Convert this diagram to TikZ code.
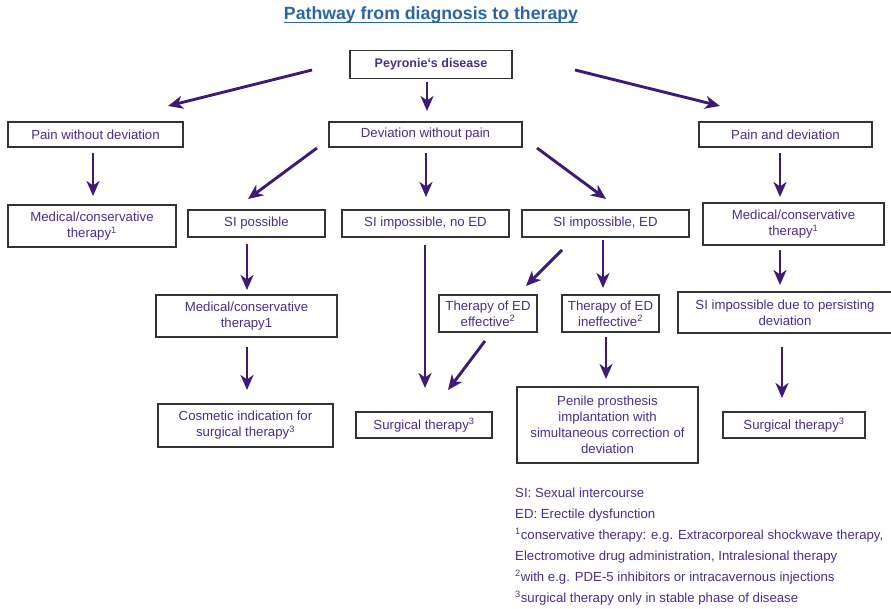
\documentclass[tikz,border=0pt]{standalone}
\usepackage{fontspec}
\setmainfont{Liberation Sans}
\usetikzlibrary{arrows.meta}
\definecolor{txtpurple}{HTML}{4B2D8F}
\definecolor{arrpurple}{HTML}{3D1A7A}
\definecolor{titleblue}{HTML}{2A66A6}
\definecolor{boxline}{HTML}{333333}

\begin{document}
\begin{tikzpicture}[x=1pt,y=-1pt,
  box/.style={draw=boxline, line width=1.8pt, fill=white, text=txtpurple, align=center,
    inner sep=2pt, font=\fontsize{13.2pt}{16pt}\selectfont},
  flow/.style={draw=arrpurple, line width=2.9pt,
    -{Stealth[length=15pt,width=13pt,inset=4.5pt]}},
  note/.style={text=txtpurple, anchor=base west, inner sep=0pt,
    font=\fontsize{13.2pt}{16pt}\selectfont}]

\useasboundingbox (0,0) rectangle (891,609);
\clip (0,0) rectangle (891,609);

% title
\node[text=titleblue, inner sep=0pt, anchor=base,
  font=\bfseries\fontsize{17.7pt}{20pt}\selectfont] (title) at (431,20)
  {Pathway from diagnosis to therapy};
\draw[titleblue, line width=1.5pt] ([yshift=-2.5pt]title.base west) -- ([yshift=-2.5pt]title.base east);

% boxes
\node[box, minimum width=162pt, minimum height=28pt,
  font=\bfseries\fontsize{12.5pt}{15pt}\selectfont] (pey) at (431,64.5) {Peyronie‘s disease};

\node[box, minimum width=175pt, minimum height=25pt] (pwd) at (95.5,134.5) {Pain without deviation};
\node[box, minimum width=193pt, minimum height=25pt] (dwp) at (425.5,134.5) {Deviation without pain};
\node[box, minimum width=173pt, minimum height=25pt] (pad) at (785.5,134.5) {Pain and deviation};

\node[box, minimum width=168pt, minimum height=42pt] (medL) at (92,226) {Medical/conservative\\therapy\textsuperscript{1}};
\node[box, minimum width=137pt, minimum height=27pt] (sipos) at (256.5,223.5) {SI possible};
\node[box, minimum width=167pt, minimum height=27pt] (sinoed) at (425.5,223.5) {SI impossible, no ED};
\node[box, minimum width=167pt, minimum height=27pt] (sied) at (605.5,223.5) {SI impossible, ED};
\node[box, minimum width=181pt, minimum height=42pt] (medR) at (793.5,224) {Medical/conservative\\therapy\textsuperscript{1}};

\node[box, minimum width=181pt, minimum height=42pt] (medC) at (246.5,316) {Medical/conservative\\therapy1};
\node[box, minimum width=98pt, minimum height=37pt, inner sep=1pt] (edeff) at (488,313.5) {Therapy of ED\\effective\textsuperscript{2}};
\node[box, minimum width=97pt, minimum height=37pt, inner sep=1pt] (edineff) at (610.5,313.5) {Therapy of ED\\ineffective\textsuperscript{2}};
\node[box, minimum width=214pt, minimum height=41pt] (sidue) at (785,312.5) {SI impossible due to persisting\\deviation};

\node[box, minimum width=175pt, minimum height=43pt] (cosm) at (245.5,425.5) {Cosmetic indication for\\surgical therapy\textsuperscript{3}};
\node[box, minimum width=136pt, minimum height=26pt] (surgC) at (424,425) {Surgical therapy\textsuperscript{3}};
\node[box, minimum width=181pt, minimum height=76pt] (penile) at (607.5,425) {Penile prosthesis\\implantation with\\simultaneous correction of\\deviation};
\node[box, minimum width=142pt, minimum height=26pt] (surgR) at (794,425) {Surgical therapy\textsuperscript{3}};

% arrow end points
\coordinate (a1) at (312,70);  \coordinate (a2) at (168,106);
\coordinate (b1) at (427,82);  \coordinate (b2) at (427,111);
\coordinate (c1) at (575,70);  \coordinate (c2) at (720,106);
\coordinate (d1) at (93,153);  \coordinate (d2) at (93,196);
\coordinate (e1) at (317,148); \coordinate (e2) at (248,199);
\coordinate (f1) at (426,153); \coordinate (f2) at (426,197);
\coordinate (g1) at (537,148); \coordinate (g2) at (606,199);
\coordinate (h1) at (780,153); \coordinate (h2) at (780,197);
\coordinate (i1) at (780,250); \coordinate (i2) at (780,285);
\coordinate (j1) at (247,244); \coordinate (j2) at (247,290);
\coordinate (k1) at (425,245); \coordinate (k2) at (425,388);
\coordinate (l1) at (562,250); \coordinate (l2) at (526,286);
\coordinate (m1) at (603,240); \coordinate (m2) at (603,288);
\coordinate (n1) at (485,341); \coordinate (n2) at (448,390);
\coordinate (o1) at (247,347); \coordinate (o2) at (247,390);
\coordinate (p1) at (606,337); \coordinate (p2) at (606,379);
\coordinate (q1) at (782,347); \coordinate (q2) at (782,398);

% connectors
\foreach \s in {a,b,c,d,e,f,g,h,i,j,k,l,m,n,o,p,q}
  \draw[flow] (\s1) -- (\s2);

% notes
\node[note] (n1t) at (515,497) {SI: Sexual intercourse};
\node[note] (n2t) at (515,518) {ED: Erectile dysfunction};
\node[note] (n3t) at (515,539) {\textsuperscript{1}conservative therapy: e.g. Extracorporeal shockwave therapy,};
\node[note] (n4t) at (515,560) {Electromotive drug administration, Intralesional therapy};
\node[note] (n5t) at (515,581) {\textsuperscript{2}with e.g. PDE-5 inhibitors or intracavernous injections};
\node[note] (n6t) at (515,602) {\textsuperscript{3}surgical therapy only in stable phase of disease};

\end{tikzpicture}
\end{document}
